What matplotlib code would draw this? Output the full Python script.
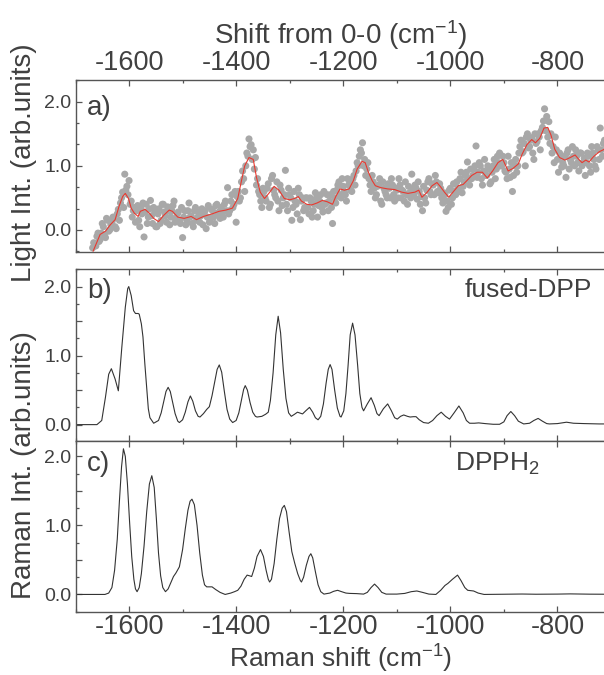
"""
Light-induced spectrum (a) vs. calculated Raman spectra (b: fused-DPP, c: DPPH2)
- three stacked panels on a shared Raman-shift axis
"""

import matplotlib
matplotlib.use("Agg")
import matplotlib.pyplot as plt
import numpy as np
from matplotlib.ticker import MultipleLocator, FuncFormatter

# ─── data ──────────────────────────────────────────

# a) measured points, two interleaved grids (step 4 cm^-1 each)
light_x0 = -1668
light_step = 4
light_y = [
    -0.28, -0.22, -0.10, -0.18, -0.05, 0.05, -0.12, 0.15, 0.00, 0.12,
    0.18, 0.02, 0.32, 0.42, 0.59, 0.87, 0.68, 0.77, 0.45, 0.30,
    0.12, 0.38, 0.05, 0.25, -0.11, 0.40, 0.20, 0.46, 0.10, 0.28,
    0.05, 0.33, 0.15, 0.40, 0.22, 0.36, 0.08, 0.30, 0.45, 0.18,
    0.28, 0.10, -0.12, 0.30, 0.15, 0.42, 0.22, 0.05, 0.35, 0.20,
    0.12, 0.33, 0.25, 0.02, 0.38, 0.18, 0.30, 0.10, 0.40, 0.28,
    0.35, 0.20, 0.45, 0.66, 0.30, 0.55, 0.40, 0.12, 0.60, 0.50,
    0.92, 0.60, 1.20, 1.42, 1.33, 1.25, 1.13, 0.80, 0.55, 0.35,
    0.60, 0.45, 0.72, 0.40, 0.85, 0.55, 0.75, 0.30, 0.62, 0.50,
    0.93, 0.30, 0.55, 0.15, 0.60, 0.40, 0.65, 0.16, 0.50, 0.35,
    0.50, 0.25, 0.45, 0.30, 0.58, 0.20, 0.45, 0.35, 0.60, 0.42,
    0.30, 0.55, 0.10, 0.50, 0.62, 0.75, 0.50, 0.68, 0.55, 0.80,
    0.72, 0.60, 0.85, 0.92, 1.00, 1.25, 1.36, 1.10, 0.95, 0.80,
    0.60, 0.75, 0.50, 0.68, 0.80, 0.40, 0.65, 0.55, 0.72, 0.50,
    0.70, 0.45, 0.62, 0.80, 0.50, 0.60, 0.75, 0.40, 0.58, 0.87,
    0.55, 0.65, 0.75, 0.40, 0.30, 0.50, 0.62, 0.80, 0.55, 0.70,
    0.85, 0.60, 0.72, 0.50, 0.58, 0.29, 0.35, 0.65, 0.50, 0.60,
    0.75, 0.60, 0.90, 0.68, 0.85, 1.06, 0.70, 0.80, 0.95, 1.31,
    0.90, 1.00, 0.70, 1.10, 0.85, 0.95, 0.75, 1.00, 0.80, 1.15,
    1.20, 1.00, 1.05, 0.90, 1.15, 0.82, 0.60, 1.00, 0.90, 1.20,
    1.40, 1.22, 1.00, 1.50, 1.30, 1.44, 1.10, 1.35, 1.50, 1.25,
    1.60, 1.89, 1.77, 1.69, 1.50, 1.30, 1.45, 1.10, 1.20, 0.98,
    1.00, 0.82, 1.25, 1.10, 1.30, 1.00, 1.15, 0.92, 1.20, 1.05,
    0.85, 1.20, 1.00, 1.30, 1.10, 0.95, 1.25, 1.59, 1.15, 1.40,
]
light2_x0 = -1666
light2_y = [
    -0.20, -0.25, -0.05, -0.15, 0.10, -0.08, 0.18, -0.02, 0.08, 0.20,
    0.05, 0.25, 0.15, 0.50, 0.35, 0.62, 0.55, 0.40, 0.20, 0.35,
    0.30, 0.15, 0.35, 0.42, 0.28, 0.10, 0.33, 0.22, 0.35, 0.05,
    0.25, 0.10, 0.40, 0.28, 0.12, 0.30, 0.20, 0.38, 0.12, 0.25,
    0.15, 0.35, 0.20, 0.08, 0.30, 0.20, 0.10, 0.30, 0.15, 0.28,
    0.22, 0.08, 0.30, 0.20, 0.12, 0.32, 0.20, 0.38, 0.25, 0.18,
    0.28, 0.40, 0.30, 0.25, 0.45, 0.35, 0.60, 0.52, 0.45, 0.75,
    0.80, 1.00, 1.15, 1.30, 1.10, 0.95, 0.70, 0.60, 0.45, 0.65,
    0.50, 0.65, 0.35, 0.80, 0.62, 0.50, 0.45, 0.70, 0.38, 0.55,
    0.40, 0.65, 0.50, 0.35, 0.45, 0.25, 0.55, 0.45, 0.30, 0.50,
    0.35, 0.50, 0.20, 0.40, 0.50, 0.38, 0.55, 0.28, 0.40, 0.55,
    0.45, 0.35, 0.60, 0.42, 0.70, 0.55, 0.80, 0.60, 0.45, 0.70,
    0.62, 0.80, 0.70, 1.05, 1.15, 1.20, 1.00, 0.85, 1.05, 0.70,
    0.85, 0.65, 0.55, 0.70, 0.45, 0.75, 0.60, 0.50, 0.65, 0.80,
    0.55, 0.65, 0.50, 0.70, 0.62, 0.45, 0.55, 0.68, 0.50, 0.62,
    0.70, 0.48, 0.60, 0.52, 0.68, 0.42, 0.75, 0.60, 0.72, 0.55,
    0.75, 0.58, 0.65, 0.42, 0.55, 0.45, 0.62, 0.40, 0.72, 0.55,
    0.65, 0.80, 0.58, 0.75, 0.90, 0.80, 0.95, 0.85, 1.00, 0.82,
    1.05, 0.80, 0.92, 0.85, 1.00, 0.72, 0.90, 1.10, 0.95, 1.05,
    1.00, 1.15, 0.92, 0.80, 0.95, 1.05, 0.85, 1.10, 1.00, 1.30,
    1.20, 1.35, 1.45, 1.28, 1.40, 1.20, 1.50, 1.38, 1.45, 1.55,
    1.70, 1.55, 1.45, 1.35, 1.20, 1.05, 1.25, 0.90, 1.15, 1.05,
    1.15, 1.20, 0.95, 1.05, 1.15, 1.25, 1.05, 1.20, 1.00, 1.12,
    1.05, 1.15, 0.90, 1.20, 1.00, 1.30, 1.10, 1.25, 1.35,
]

# a) smoothed trace
smooth_x = [
    -1667, -1654, -1644, -1635, -1626, -1619, -1612, -1607, -1601, -1596,
    -1590, -1583, -1579, -1570, -1562, -1554, -1545, -1535, -1525, -1519,
    -1509, -1497, -1484, -1474, -1461, -1445, -1432, -1419, -1407, -1397,
    -1390, -1384, -1376, -1368, -1362, -1355, -1347, -1339, -1329, -1320,
    -1310, -1300, -1291, -1284, -1278, -1268, -1259, -1249, -1239, -1230,
    -1220, -1214, -1206, -1198, -1189, -1181, -1174, -1165, -1159, -1153,
    -1146, -1140, -1130, -1117, -1104, -1091, -1079, -1066, -1059, -1053,
    -1043, -1034, -1025, -1018, -1011, -1003, -995, -985, -976, -969,
    -960, -950, -940, -931, -921, -911, -902, -892, -883, -873,
    -866, -857, -848, -841, -833, -825, -818, -812, -805, -796,
    -786, -776, -767, -760, -754, -747, -741, -733, -722, -712,
]
smooth_y = [
    -0.33, -0.07, -0.02, 0.08, 0.16, 0.36, 0.52, 0.57, 0.49, 0.34,
    0.26, 0.21, 0.29, 0.32, 0.26, 0.18, 0.13, 0.23, 0.31, 0.29,
    0.20, 0.18, 0.21, 0.16, 0.21, 0.25, 0.29, 0.31, 0.34, 0.49,
    0.77, 1.00, 1.13, 1.10, 0.82, 0.59, 0.49, 0.57, 0.68, 0.62,
    0.49, 0.47, 0.49, 0.52, 0.45, 0.40, 0.39, 0.42, 0.46, 0.44,
    0.40, 0.52, 0.64, 0.62, 0.64, 0.77, 0.95, 1.07, 1.05, 0.90,
    0.77, 0.69, 0.66, 0.64, 0.63, 0.59, 0.57, 0.59, 0.62, 0.51,
    0.59, 0.69, 0.74, 0.67, 0.59, 0.51, 0.59, 0.69, 0.71, 0.77,
    0.85, 0.90, 0.90, 0.81, 0.92, 1.05, 1.10, 0.92, 0.96, 1.03,
    1.18, 1.33, 1.41, 1.36, 1.43, 1.59, 1.60, 1.48, 1.26, 1.13,
    1.09, 1.13, 1.17, 1.10, 1.05, 1.09, 1.06, 1.14, 1.22, 1.26,
]

# b) fused-DPP
fused_x = [
    -1700, -1660, -1651, -1644, -1638, -1633, -1626, -1620, -1613.5, -1607,
    -1602.5, -1600.5, -1596, -1591.5, -1588, -1583, -1581, -1577, -1574, -1570.5,
    -1567, -1564, -1561, -1554, -1545, -1540, -1535, -1531, -1527, -1523,
    -1519, -1514, -1509, -1506, -1500, -1495, -1490, -1485.5, -1481, -1476,
    -1471, -1467.5, -1461, -1455, -1450, -1445, -1440, -1435.5, -1431.5, -1427,
    -1422, -1417, -1412, -1406.5, -1400, -1395, -1390, -1386, -1383, -1379,
    -1374, -1369, -1364, -1361, -1352, -1345, -1340, -1336, -1331, -1326,
    -1321.5, -1317, -1312, -1307, -1302, -1297, -1291, -1285.5, -1280, -1276,
    -1270, -1263, -1257, -1252, -1247, -1242, -1237, -1232, -1228, -1224.5,
    -1221, -1216, -1211, -1206, -1204, -1199, -1195, -1191, -1187, -1182.5,
    -1178, -1173, -1169, -1165, -1162, -1155, -1148, -1142, -1137, -1133,
    -1125, -1117, -1110, -1104, -1099, -1093, -1087, -1080, -1075, -1069,
    -1064, -1058, -1050, -1041, -1033, -1025, -1017, -1009, -1001.5, -993,
    -984, -976, -970, -964, -955, -947, -935, -920, -908, -900,
    -894, -887, -880, -873, -863, -852, -844, -836, -828, -820,
    -815, -800, -783, -770, -750, -722, -710,
]
fused_y = [
    0.0, 0.0, 0.06, 0.40, 0.73, 0.81, 0.66, 0.49, 1.12, 1.70,
    1.97, 2.00, 1.87, 1.65, 1.61, 1.61, 1.60, 1.46, 1.27, 0.88,
    0.54, 0.23, 0.10, 0.02, 0.06, 0.17, 0.34, 0.48, 0.54, 0.48,
    0.34, 0.16, 0.05, 0.03, 0.07, 0.18, 0.33, 0.415, 0.34, 0.20,
    0.12, 0.11, 0.16, 0.22, 0.26, 0.42, 0.62, 0.80, 0.865, 0.76,
    0.48, 0.22, 0.08, 0.03, 0.06, 0.17, 0.36, 0.51, 0.565, 0.50,
    0.32, 0.18, 0.12, 0.11, 0.12, 0.15, 0.18, 0.35, 0.75, 1.30,
    1.57, 1.33, 0.80, 0.38, 0.17, 0.12, 0.15, 0.18, 0.165, 0.155,
    0.20, 0.25, 0.18, 0.10, 0.07, 0.12, 0.30, 0.60, 0.80, 0.87,
    0.80, 0.50, 0.24, 0.12, 0.11, 0.20, 0.45, 0.85, 1.30, 1.47,
    1.30, 0.85, 0.45, 0.25, 0.20, 0.30, 0.39, 0.28, 0.16, 0.13,
    0.23, 0.30, 0.20, 0.10, 0.08, 0.12, 0.14, 0.12, 0.11, 0.115,
    0.115, 0.07, 0.03, 0.02, 0.06, 0.13, 0.18, 0.12, 0.08, 0.17,
    0.27, 0.17, 0.06, 0.02, 0.02, 0.025, 0.015, 0.005, 0.005, 0.04,
    0.13, 0.19, 0.13, 0.05, 0.01, 0.02, 0.06, 0.09, 0.05, 0.015,
    0.01, 0.015, 0.035, 0.02, 0.015, 0.01, 0.01,
]

# c) DPPH2
dpph_x = [
    -1700, -1645, -1638, -1632, -1627, -1622, -1618, -1614, -1610.5, -1607,
    -1603, -1599, -1595, -1591, -1588, -1585, -1581, -1577, -1572, -1567,
    -1562, -1557.5, -1553, -1549, -1545, -1541, -1537, -1532, -1527, -1522,
    -1517, -1512.5, -1506, -1500, -1495, -1490, -1486, -1482.5, -1478, -1473,
    -1468, -1463, -1459, -1455, -1450, -1445, -1438, -1430, -1420.5, -1410,
    -1403, -1397, -1391, -1385, -1379.5, -1375, -1371, -1366, -1361, -1354.5,
    -1349, -1344, -1340, -1337.5, -1334, -1329, -1324, -1319, -1314, -1310,
    -1306, -1301, -1296, -1290.5, -1285, -1280, -1278, -1274, -1269, -1264,
    -1260.5, -1257, -1252, -1247, -1242, -1236, -1225, -1218, -1210.5, -1203,
    -1195, -1188, -1175, -1162, -1155, -1148, -1141.5, -1135, -1128, -1120,
    -1100, -1085, -1073, -1062.5, -1052, -1040, -1027, -1018, -1010, -1004.5,
    -996, -986.5, -980, -973, -967.5, -962, -956.5, -948, -937, -900,
    -866, -840, -800, -776, -740, -710,
]
dpph_y = [
    0.0, 0.0, 0.02, 0.10, 0.35, 0.80, 1.35, 1.85, 2.11, 2.00,
    1.60, 1.05, 0.55, 0.22, 0.08, 0.04, 0.10, 0.30, 0.70, 1.20,
    1.60, 1.72, 1.55, 1.10, 0.60, 0.27, 0.10, 0.04, 0.08, 0.17,
    0.26, 0.31, 0.40, 0.65, 0.95, 1.22, 1.35, 1.38, 1.30, 1.00,
    0.60, 0.28, 0.14, 0.11, 0.11, 0.11, 0.07, 0.03, 0.00, 0.02,
    0.04, 0.06, 0.12, 0.22, 0.28, 0.27, 0.26, 0.38, 0.55, 0.65,
    0.55, 0.35, 0.22, 0.18, 0.22, 0.45, 0.80, 1.10, 1.25, 1.29,
    1.20, 0.90, 0.62, 0.45, 0.30, 0.20, 0.18, 0.25, 0.42, 0.55,
    0.59, 0.53, 0.33, 0.14, 0.04, 0.005, 0.02, 0.045, 0.06, 0.04,
    0.02, 0.015, 0.012, 0.005, 0.03, 0.10, 0.15, 0.10, 0.03, 0.005,
    0.005, 0.015, 0.04, 0.05, 0.03, 0.005, 0.0, 0.06, 0.13, 0.16,
    0.22, 0.28, 0.20, 0.10, 0.06, 0.055, 0.05, 0.02, 0.0, 0.003,
    0.006, 0.003, 0.005, 0.008, 0.004, 0.003,
]

x_ticks = [-1600, -1400, -1200, -1000, -800]

# ─── style ─────────────────────────────────────────

TEXT = "#404040"
SPINE = "#555555"

plt.rcParams["font.family"] = ["Liberation Sans", "DejaVu Sans"]
plt.rcParams["mathtext.fontset"] = "custom"
plt.rcParams["mathtext.rm"] = "Liberation Sans"
plt.rcParams["mathtext.it"] = "Liberation Sans:italic"
plt.rcParams["axes.unicode_minus"] = False
plt.rcParams["text.color"] = TEXT
plt.rcParams["xtick.color"] = SPINE
plt.rcParams["ytick.color"] = SPINE
plt.rcParams["xtick.labelcolor"] = TEXT
plt.rcParams["ytick.labelcolor"] = TEXT

W_PX, H_PX = 604, 675
fig = plt.figure(figsize=(W_PX / 100, H_PX / 100), dpi=100)


def box(top, bottom, left=75.5):
    """pixel box -> figure fraction rect"""
    return [left / W_PX, (H_PX - bottom) / H_PX, 1 - left / W_PX, (bottom - top) / H_PX]


ax_a = fig.add_axes(box(80, 251.7))
ax_b = fig.add_axes(box(269.3, 440.5))
ax_c = fig.add_axes(box(440.5, 611.7))

fmt = FuncFormatter(lambda v, _: f"{v:.1f}" if abs(v - round(v)) < 1e-6 else "")

for ax in (ax_a, ax_b, ax_c):
    ax.set_xlim(-1700, -713)
    ax.set_xticks(x_ticks)
    ax.xaxis.set_minor_locator(MultipleLocator(100))
    ax.tick_params(which="both", direction="in", top=True, bottom=True, right=False,
                   width=0.9)
    ax.tick_params(which="major", length=4)
    ax.tick_params(which="minor", length=2.5)
    ax.tick_params(axis="x", labelsize=19.5, pad=2)
    ax.tick_params(axis="y", labelsize=14, pad=3)
    ax.yaxis.set_major_formatter(fmt)
    for side in ("left", "top", "bottom"):
        ax.spines[side].set_color(SPINE)
        ax.spines[side].set_linewidth(1.0)
    ax.spines["right"].set_visible(False)

# a) light intensity
light_x = light_x0 + light_step * np.arange(len(light_y))
light2_x = light2_x0 + light_step * np.arange(len(light2_y))
ax_a.scatter(light_x, light_y, s=26, color="#a8a8a8", edgecolors="none", zorder=2)
ax_a.scatter(light2_x, light2_y, s=26, color="#a8a8a8", edgecolors="none", zorder=2)
ax_a.plot(smooth_x, smooth_y, color="#e8392f", lw=0.8, zorder=3)
ax_a.set_ylim(-0.34, 2.34)
ax_a.yaxis.set_major_locator(MultipleLocator(1))
ax_a.yaxis.set_minor_locator(MultipleLocator(1 / 3))
ax_a.tick_params(axis="x", labeltop=True, labelbottom=False, pad=3)
ax_a.text(0.022, 0.91, "a)", transform=ax_a.transAxes, fontsize=20, va="top", ha="left")

# b) fused-DPP
ax_b.plot(fused_x, fused_y, color="#333333", lw=0.8)
ax_b.set_ylim(-0.23, 2.25)
ax_b.text(0.022, 0.95, "b)", transform=ax_b.transAxes, fontsize=20, va="top", ha="left")
ax_b.text(0.977, 0.95, "fused-DPP", transform=ax_b.transAxes, fontsize=19,
          va="top", ha="right")
ax_b.tick_params(axis="x", labelbottom=False)

# c) DPPH2
ax_c.plot(dpph_x, dpph_y, color="#333333", lw=0.8)
ax_c.set_ylim(-0.25, 2.23)
ax_c.text(0.022, 0.94, "c)", transform=ax_c.transAxes, fontsize=20, va="top", ha="left")
ax_c.text(0.718, 0.94, "DPPH$_2$", transform=ax_c.transAxes, fontsize=19,
          va="top", ha="left")

for ax in (ax_b, ax_c):
    ax.yaxis.set_major_locator(MultipleLocator(0.5))
    ax.yaxis.set_minor_locator(MultipleLocator(0.25))

# axis titles
fig.text(341 / W_PX, 1 - 35 / H_PX, "Shift from 0-0 (cm$^{-1}$)", fontsize=20,
         ha="center", va="center")
fig.text(341 / W_PX, 1 - 659 / H_PX, "Raman shift (cm$^{-1}$)", fontsize=19,
         ha="center", va="center")
fig.text(24 / W_PX, 1 - 163 / H_PX, "Light Int. (arb.units)", fontsize=20,
         rotation=90, ha="center", va="center")
fig.text(24 / W_PX, 1 - 465 / H_PX, "Raman Int. (arb.units)", fontsize=20,
         rotation=90, ha="center", va="center")

fig.savefig("out.png", dpi=100)
plt.close(fig)
